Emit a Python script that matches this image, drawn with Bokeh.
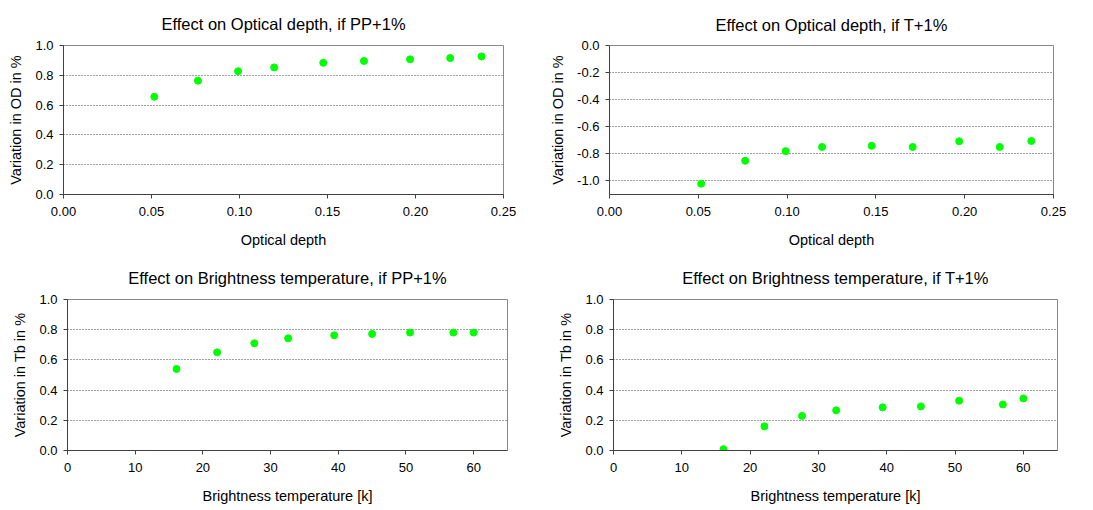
from bokeh.plotting import figure
from bokeh.layouts import column, row
from bokeh.models import FixedTicker, NumeralTickFormatter, Range1d, Title
from bokeh.embed import file_html
from bokeh.resources import INLINE

# Data
od_x = [0.0516, 0.0764, 0.0992, 0.1197, 0.1476, 0.1707, 0.1969, 0.2197, 0.2375]
od_pp = [0.656, 0.764, 0.827, 0.853, 0.884, 0.896, 0.907, 0.916, 0.927]
od_t = [-1.02, -0.851, -0.780, -0.749, -0.741, -0.749, -0.707, -0.749, -0.705]
tb_x = [16.1, 22.1, 27.6, 32.6, 39.4, 45.0, 50.6, 57.0, 60.0]
tb_pp = [0.540, 0.650, 0.710, 0.743, 0.763, 0.772, 0.781, 0.781, 0.781]
tb_t = [0.009, 0.160, 0.229, 0.266, 0.286, 0.292, 0.330, 0.305, 0.345]

titles = ["Effect on Optical depth, if PP+1%", "Effect on Optical depth, if T+1%",
          "Effect on Brightness temperature, if PP+1%", "Effect on Brightness temperature, if T+1%"]
xlabels = ["Optical depth", "Optical depth", "Brightness temperature [k]", "Brightness temperature [k]"]
ylabels = ["Variation in OD in %", "Variation in OD in %", "Variation in Tb in %", "Variation in Tb in %"]

FONT = "Liberation Sans"
GREEN = "#00ff00"


def make(title, xlab, ylab, xs, ys, xr, yr, xticks, yticks, xfmt, w, h, bl, br, bt, bb, so):
    p = figure(width=w, height=h, output_backend="svg", toolbar_location=None,
               x_range=Range1d(*xr), y_range=Range1d(*yr),
               min_border_left=bl, min_border_right=br, min_border_top=bt, min_border_bottom=bb)
    p.title = Title(text=title, align="center", text_font=FONT, text_font_size="16.5px",
                    text_font_style="normal", text_color="#000000", offset=0, standoff=so)
    p.scatter(xs, ys, size=7, color=GREEN, line_color=GREEN)
    p.xaxis.ticker = FixedTicker(ticks=xticks)
    p.yaxis.ticker = FixedTicker(ticks=yticks)
    p.xaxis.formatter = NumeralTickFormatter(format=xfmt)
    p.yaxis.formatter = NumeralTickFormatter(format="0.0")
    for ax in (p.xaxis, p.yaxis):
        ax.axis_line_color = "#404040"
        ax.major_tick_line_color = "#404040"
        ax.major_tick_out = 4
        ax.major_tick_in = 0
        ax.minor_tick_line_color = None
        ax.major_label_text_font = FONT
        ax.major_label_text_font_size = "13px"
        ax.major_label_text_color = "#000000"
        ax.major_label_standoff = 6
        ax.axis_label_text_font = FONT
        ax.axis_label_text_font_size = "14.5px"
        ax.axis_label_text_font_style = "normal"
        ax.axis_label_text_color = "#000000"
    p.xaxis.axis_label = xlab
    p.yaxis.axis_label = ylab
    p.xaxis.major_label_standoff = 8
    p.xaxis.axis_label_standoff = 13
    p.yaxis.axis_label_standoff = 8
    p.xgrid.grid_line_color = None
    p.ygrid.grid_line_color = "#404040"
    p.ygrid.grid_line_dash = "1 2"
    p.ygrid.grid_line_width = 1
    p.outline_line_color = "#888888"
    p.background_fill_color = "white"
    p.border_fill_color = "white"
    return p


od_xticks = [0.0, 0.05, 0.10, 0.15, 0.20, 0.25]
tb_xticks = [0, 10, 20, 30, 40, 50, 60]
pos_yticks = [0.0, 0.2, 0.4, 0.6, 0.8, 1.0]
neg_yticks = [0.0, -0.2, -0.4, -0.6, -0.8, -1.0]

p1 = make(titles[0], xlabels[0], ylabels[0], od_x, od_pp, (0, 0.25), (0, 1.0),
          od_xticks, pos_yticks, "0.00", 546, 253, 63, 43, 45, 58, 25)
p2 = make(titles[1], xlabels[1], ylabels[1], od_x, od_t, (0, 0.25), (-1.1, 0.0),
          od_xticks, neg_yticks, "0.00", 539, 253, 63, 32, 43, 59, 23)
p3 = make(titles[2], xlabels[2], ylabels[2], tb_x, tb_pp, (0, 65), (0, 1.0),
          tb_xticks, pos_yticks, "0", 546, 257, 67, 39, 46, 60, 26)
p4 = make(titles[3], xlabels[3], ylabels[3], tb_x, tb_t, (0, 65), (0, 1.0),
          tb_xticks, pos_yticks, "0", 539, 257, 67, 28, 46, 59, 26)

layout = column(row(p1, p2), row(p3, p4))
open("out.html", "w").write(file_html(layout, INLINE))
